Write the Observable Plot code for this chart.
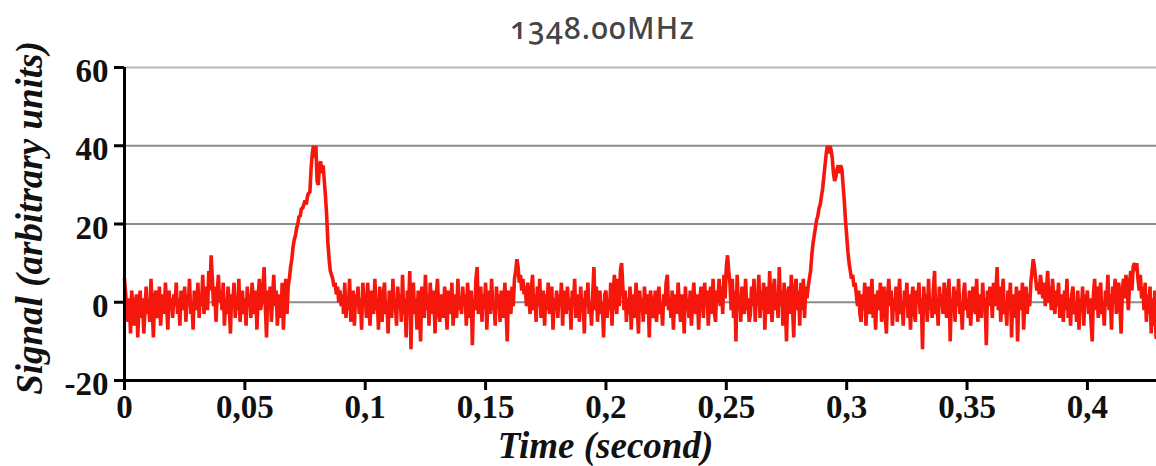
<!DOCTYPE html>
<html>
<head>
<meta charset="utf-8">
<script src="https://cdn.jsdelivr.net/npm/d3@7"></script>
<script src="https://cdn.jsdelivr.net/npm/@observablehq/plot@0.6"></script>
<style>
  body { margin: 0; background: #fff; }
  svg { display: block; }
</style>
</head>
<body>
<div id="chart"></div>
<script>
const title = "1348.00MHz";
const xLabel = "Time (second)";
const yLabel = "Signal (arbitrary units)";

const sampleInterval = 0.0005; // seconds between samples
const xTicks = [0, 0.05, 0.1, 0.15, 0.2, 0.25, 0.3, 0.35, 0.4];
const xTickLabels = ["0", "0,05", "0,1", "0,15", "0,2", "0,25", "0,3", "0,35", "0,4"];
const yTicks = [-20, 0, 20, 40, 60];
const yTickLabels = ["-20", "0", "20", "40", "60"];
const gridValues = [0, 20, 40];
const topGrid = [60];

// signal samples, 40 per 0.02 s
const s00 = [6,2,-3,-5,1,-8,3,-2,-6,0, 2,-9,-1,3,-4,1,-8,-2,4,-3, 0,-5,6,-1,-9,1,3,-4,-2,4, -6,0,2,-3,5,-1,-7,3,-2,1];
const s01 = [-4,2,-1,5,-3,1,-6,3,0,-2, 4,-5,2,-1,6,-3,0,-7,3,1, -2,5,-4,2,-1,7,-3,1,4,-2, 8,3,12,6,-1,4,-5,2,7,0];
const s02 = [3,-2,5,-6,1,-3,4,-1,-8,2, 0,5,-4,1,-2,6,-5,0,3,-3, 1,-6,4,-1,2,-4,5,0,-3,3, -7,1,6,-2,0,4,9,-1,-9,3];
const s03 = [-2,4,-5,1,7,-1,3,-6,0,2, -4,5,-7,1,6,-3,4,6,9,11, 14,16,17,19,20,22,22,24,24,25, 26,25,27,28,28,34,38,40,37,40];
const s04 = [31,30,35,36,33,35,31,27,22,15, 11,8,7,6,4,5,2,4,0,3, -1,2,-3,5,-4,1,-2,6,-5,0, 3,-6,2,-1,4,-3,1,-7,5,0];
const s05 = [2,-4,5,-1,-6,3,0,-3,6,-2, 1,-7,4,-1,-5,2,5,-3,0,-8, 3,1,-4,6,-2,0,-6,4,-1,2, -5,7,-3,1,-9,3,-2,8,-12,4];
const s06 = [5,-3,1,-7,3,-1,-10,4,0,-4, 7,-2,2,-6,5,-1,-3,3,-8,1, 6,-2,-5,2,0,-4,4,-1,-7,3, 1,-3,5,-6,0,2,-4,6,-2,1];
const s07 = [-3,4,-1,2,-6,5,0,-4,3,-11, 1,-2,6,9,-3,0,4,-5,2,-1, 5,-7,1,3,-3,6,-2,0,-6,4, -1,2,-5,3,0,-4,5,-2,-10,3];
const s08 = [1,-3,4,-1,6,8,11,9,5,7, 3,6,2,4,-1,5,1,-3,3,7, -2,2,-5,4,-1,6,-4,1,3,-6, 2,-2,5,-3,0,4,-7,1,-2,3];
const s09 = [-4,2,-1,5,-6,3,0,-3,4,-2, 1,-7,3,-1,6,-4,2,0,-5,4, -2,1,-8,3,-1,5,-3,0,-6,2, 9,-2,4,-5,1,3,-3,0,-9,2];
const s10 = [3,-4,1,-2,5,-6,2,7,0,-3, 6,-1,8,10,4,-2,3,-5,1,-3, 4,-7,2,0,-4,5,-1,-8,3,-2, 1,-5,4,-1,-3,2,-9,3,0,-4];
const s11 = [-2,3,-5,1,4,-3,0,-6,2,-1, 5,7,-2,1,-4,3,-7,0,2,-3, 5,-1,-5,2,0,-8,4,-2,1,-4, 3,-6,0,5,-2,-3,2,-7,1,4];
const s12 = [2,-4,5,-1,3,-6,1,4,-3,6, -2,-5,3,0,6,-1,4,-3,7,1, 9,12,8,5,-2,6,-4,3,-10,7, -1,2,-5,4,0,-3,6,-2,1,-5];
const s13 = [-3,4,-1,6,-5,2,0,7,-4,3, -2,5,-7,1,4,-3,8,0,-5,3, 6,-2,1,-4,9,-1,3,-6,5,0, -10,2,4,-3,7,-1,-9,3,6,-2];
const s14 = [3,-6,5,-2,6,-4,4,1,4,6, 8,12,15,17,19,21,22,24,25,27, 29,32,35,38,40,38,40,39,37,33, 31,32,34,35,33,35,34,30,26,21];
const s15 = [17,13,10,8,6,7,4,5,2,-1, 3,-3,-5,2,-2,5,-6,1,4,-3, 0,6,-4,2,-7,1,3,-2,5,-5, 0,4,-3,-8,2,6,-1,3,-6,1];
const s16 = [-2,4,-5,1,6,-3,0,-6,3,-1, 5,-4,2,-7,1,4,-2,-5,3,0, 5,-3,1,-12,4,-1,2,-5,6,-2, 0,-4,3,8,-3,1,-6,4,-1,2];
const s17 = [-3,5,0,-4,2,6,-10,1,-2,4, -5,3,-1,6,-3,0,-7,2,5,-2, 1,-4,3,-6,0,4,-1,-3,6,-5, 2,0,-4,5,-2,1,-11,3,-1,4];
const s18 = [2,-4,5,-1,3,9,-2,4,-5,1, 6,-3,0,-6,3,-1,5,-9,2,0, -4,4,-10,1,3,-2,5,-7,0,4, -3,2,-1,5,8,11,9,6,3,5];
const s19 = [2,7,4,1,5,-1,3,8,0,4, -2,6,1,-3,3,-1,5,-4,2,0, -5,3,-2,6,-4,1,-6,2,4,-3, 0,-5,3,-7,1,-2,4,-6,2,-1];
const s20 = [3,-3,1,-5,-10,2,6,-2,4,-4, 1,5,-3,0,-6,3,-1,7,-2,2, -7,4,0,6,-3,2,5,-1,-8,3, 6,1,7,4,-2,5,8,3,9,10];
const s21 = [8,10,6,3,7,1,4,-2,5,-5, 2,-3,4,-8,1,-6,3,-9];

const signal = [s00,s01,s02,s03,s04,s05,s06,s07,s08,s09,s10,s11,s12,s13,s14,s15,s16,s17,s18,s19,s20,s21].flat();
const data = signal.map((v, i) => ({time: i * sampleInterval, value: v}));

const serif = "'Liberation Serif', 'Times New Roman', serif";
const axisText = {fill: "#111", fontSize: 33, fontWeight: "bold", fontFamily: serif, label: null};
const labelText = {fontSize: 37, fontWeight: "bold", fontStyle: "italic", fontFamily: serif, fill: "#111", textAnchor: "middle", lineAnchor: "middle"};

const chart = Plot.plot({
  width: 1156,
  height: 466,
  marginTop: 67,
  marginBottom: 86,
  marginLeft: 124,
  marginRight: 0,
  style: {background: "#fff", overflow: "visible"},
  x: {domain: [0, 0.4287]},
  y: {domain: [-20, 60]},
  marks: [
    Plot.ruleY(gridValues, {stroke: "#8c8c8c", strokeWidth: 2}),
    Plot.ruleY(topGrid, {stroke: "#b8b8b8", strokeWidth: 2}),
    Plot.line(data, {x: "time", y: "value", stroke: "#f5170b", strokeWidth: 3.6, strokeLinejoin: "miter"}),
    Plot.ruleX([0], {stroke: "#000", strokeWidth: 3}),
    Plot.ruleY([-20], {stroke: "#000", strokeWidth: 3}),
    Plot.axisY({ticks: yTicks, tickSize: 10, stroke: "#000", strokeWidth: 3, fill: "none", label: null}),
    Plot.axisY({ticks: yTicks, tickFormat: (d, i) => yTickLabels[i], tickSize: 10, tickPadding: 6, stroke: "none", dy: 4, ...axisText}),
    Plot.axisX({ticks: xTicks, tickSize: 10, stroke: "#000", strokeWidth: 3, fill: "none", label: null}),
    Plot.axisX({ticks: xTicks, tickFormat: (d, i) => xTickLabels[i], tickSize: 10, tickPadding: 4, stroke: "none", ...axisText}),
    Plot.text([xLabel], {frameAnchor: "bottom", dx: -35, dy: 66, ...labelText}),
    Plot.text([yLabel], {frameAnchor: "left", rotate: -90, dx: -94, dy: -6, ...labelText}),
    Plot.text([title], {frameAnchor: "top", dx: -38, dy: -38, textAnchor: "middle", lineAnchor: "middle", fontSize: 30, fontWeight: 500, fontFamily: "'Noto Sans', sans-serif", fontVariant: "oldstyle-nums", fill: "#454545"})
  ]
});
document.getElementById("chart").append(chart);
d3.select(chart).selectAll("text").filter(function() { return this.textContent === title; }).style("letter-spacing", "1.2px");
</script>
</body>
</html>
